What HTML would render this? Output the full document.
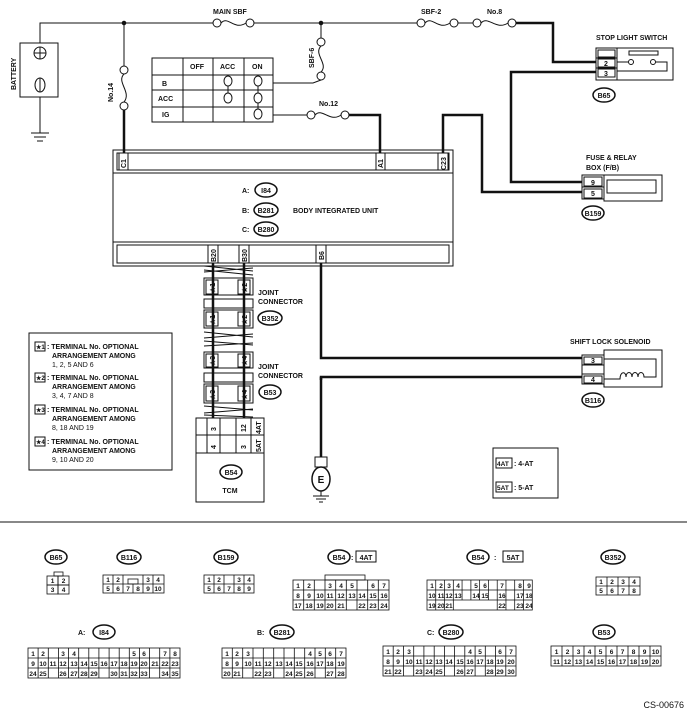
<!DOCTYPE html>
<html><head><meta charset="utf-8"><style>
html,body{margin:0;padding:0;background:#fff}
svg{display:block}
text{font-family:"Liberation Sans",Arial,sans-serif;font-weight:bold;fill:#111}
.t{font-size:7px}
.c{font-size:6.5px;font-weight:normal;text-anchor:middle}
.m{text-anchor:middle}
</style></head><body>
<svg width="687" height="719" viewBox="0 0 687 719" xmlns="http://www.w3.org/2000/svg">
<g fill="none" stroke="#111" stroke-width="1">
<polyline points="40,43 40,23 213,23"/>
<line x1="254" y1="23" x2="417" y2="23"/>
<line x1="458" y1="23" x2="473" y2="23"/>
<circle cx="124" cy="23" r="1.8" fill="#111"/>
<circle cx="321" cy="23" r="1.8" fill="#111"/>
<circle cx="217" cy="23" r="4"/><circle cx="250" cy="23" r="4"/><path d="M221,23 C228,15 234,31 246,23"/>
<circle cx="421" cy="23" r="4"/><circle cx="454" cy="23" r="4"/><path d="M425,23 C432,15 438,31 450,23"/>
<circle cx="477" cy="23" r="4"/><circle cx="512" cy="23" r="4"/><path d="M481,23 C488,15 496,31 508,23"/>
<rect x="20" y="43" width="38" height="54"/>
<circle cx="40" cy="53" r="6"/><line x1="34" y1="53" x2="46" y2="53"/><line x1="40" y1="47" x2="40" y2="59"/>
<ellipse cx="40" cy="85" rx="5" ry="7"/><line x1="40" y1="78" x2="40" y2="92"/>
<line x1="40" y1="97" x2="40" y2="133"/>
<line x1="31" y1="133" x2="49" y2="133"/><line x1="34" y1="137" x2="46" y2="137"/><line x1="37" y1="141" x2="43" y2="141"/>
<line x1="124" y1="23" x2="124" y2="66"/>
<circle cx="124" cy="70" r="4"/><circle cx="124" cy="106" r="4"/><path d="M124,74 C116,82 132,92 124,102"/>
<line x1="321" y1="23" x2="321" y2="38"/>
<circle cx="321" cy="42" r="4"/><circle cx="321" cy="76" r="4"/><path d="M321,46 C313,54 329,64 321,72"/>
<polyline points="273,83 313,83 321,80"/>
<rect x="152" y="58" width="121" height="64"/>
<line x1="183" y1="58" x2="183" y2="122"/><line x1="213" y1="58" x2="213" y2="122"/><line x1="244" y1="58" x2="244" y2="122"/>
<line x1="152" y1="75" x2="273" y2="75"/><line x1="152" y1="90" x2="273" y2="90"/><line x1="152" y1="107" x2="273" y2="107"/>
<ellipse cx="228" cy="81" rx="4" ry="5"/><ellipse cx="228" cy="98" rx="4" ry="5"/><line x1="228" y1="86" x2="228" y2="93"/>
<ellipse cx="258" cy="81" rx="4" ry="5"/><ellipse cx="258" cy="98" rx="4" ry="5"/><ellipse cx="258" cy="114" rx="4" ry="5"/>
<line x1="258" y1="86" x2="258" y2="93"/><line x1="258" y1="103" x2="258" y2="109"/>
<line x1="273" y1="115" x2="307" y2="115"/>
<circle cx="311" cy="115" r="4"/><circle cx="345" cy="115" r="4"/><path d="M315,115 C322,107 330,123 341,115"/>
<rect x="113" y="150" width="340" height="116"/>
<rect x="117" y="153" width="332" height="17"/>
<line x1="113" y1="173" x2="453" y2="173"/>
<line x1="113" y1="242" x2="453" y2="242"/>
<rect x="117" y="245" width="332" height="18"/>
<rect x="119" y="153" width="9" height="17"/><rect x="376" y="153" width="9" height="17"/><rect x="438" y="153" width="10" height="17"/>
<rect x="208" y="245" width="10" height="18"/><rect x="239" y="245" width="10" height="18"/><rect x="316" y="245" width="10" height="18"/>
<ellipse cx="266" cy="190" rx="11" ry="7" stroke-width="1.5"/>
<ellipse cx="266" cy="210" rx="12" ry="7" stroke-width="1.5"/>
<ellipse cx="266" cy="229" rx="12" ry="7" stroke-width="1.5"/>
<rect x="596" y="48" width="21" height="32"/>
<line x1="596" y1="58" x2="617" y2="58"/><line x1="596" y1="68" x2="617" y2="68"/>
<rect x="598" y="50" width="17" height="7"/><rect x="598" y="59" width="17" height="8"/><rect x="598" y="69" width="17" height="8"/>
<rect x="617" y="48" width="56" height="32"/>
<rect x="629" y="51" width="29" height="4"/>
<circle cx="631" cy="62" r="2.5"/><circle cx="653" cy="62" r="2.5"/>
<polyline points="617,62 628,62"/><polyline points="656,62 667,62 667,71 617,71"/>
<ellipse cx="604" cy="95" rx="11" ry="7" stroke-width="1.5"/>
<rect x="582" y="175" width="22" height="24"/>
<line x1="582" y1="187" x2="604" y2="187"/>
<rect x="584" y="177" width="18" height="9"/><rect x="584" y="189" width="18" height="9"/>
<rect x="604" y="175" width="58" height="26"/>
<rect x="607" y="180" width="49" height="13"/>
<ellipse cx="593" cy="213" rx="11" ry="7" stroke-width="1.5"/>
<rect x="204" y="278" width="49" height="17"/><rect x="206" y="280" width="12" height="14"/><rect x="238" y="280" width="12" height="14"/>
<rect x="204" y="299" width="49" height="9"/><line x1="213" y1="299" x2="213" y2="308"/><line x1="244" y1="299" x2="244" y2="308"/>
<rect x="204" y="310" width="49" height="18"/><rect x="206" y="312" width="12" height="14"/><rect x="238" y="312" width="12" height="14"/>
<rect x="204" y="352" width="49" height="16"/><rect x="206" y="354" width="12" height="13"/><rect x="238" y="354" width="12" height="13"/>
<rect x="204" y="373" width="49" height="9"/><line x1="213" y1="373" x2="213" y2="382"/><line x1="244" y1="373" x2="244" y2="382"/>
<rect x="204" y="384" width="49" height="19"/><rect x="206" y="386" width="12" height="15"/><rect x="238" y="386" width="12" height="15"/>
<ellipse cx="270" cy="318" rx="12" ry="7" stroke-width="1.5"/>
<ellipse cx="270" cy="392" rx="11" ry="7" stroke-width="1.5"/>
<path d="M204,266 L253,271 M204,272 L253,268 M204,270 L253,275"/>
<path d="M204,332 L253,337 M204,338 L253,334 M204,341 L253,345 M204,346 L253,343"/>
<path d="M204,406 L253,410 M204,413 L253,409 M204,415 L253,417"/>
<rect x="196" y="418" width="68" height="84"/>
<line x1="196" y1="453" x2="264" y2="453"/>
<line x1="196" y1="435" x2="264" y2="435"/>
<line x1="207" y1="418" x2="207" y2="453"/><line x1="220" y1="418" x2="220" y2="453"/><line x1="236" y1="418" x2="236" y2="453"/><line x1="251" y1="418" x2="251" y2="453"/>
<ellipse cx="231" cy="472" rx="11" ry="7" stroke-width="1.5"/>
<rect x="582" y="355" width="22" height="29"/>
<line x1="582" y1="365" x2="604" y2="365"/><line x1="582" y1="374" x2="604" y2="374"/>
<rect x="584" y="357" width="18" height="7"/><rect x="584" y="376" width="18" height="7"/>
<rect x="604" y="350" width="58" height="37"/>
<polyline points="604,359 656,359 656,377 646,377"/>
<path d="M604,379 L620,379 C620,371 626,371 626,377 C626,371 632,371 632,377 C632,371 638,371 638,377 C638,371 644,371 644,377 L646,377"/>
<ellipse cx="593" cy="400" rx="11" ry="7" stroke-width="1.5"/>
<line x1="321" y1="377" x2="321" y2="457" stroke-width="2.5"/>
<rect x="315" y="457" width="12" height="10"/>
<ellipse cx="321" cy="479" rx="9" ry="12" stroke-width="1.5"/>
<line x1="321" y1="491" x2="321" y2="496"/>
<line x1="313" y1="496" x2="329" y2="496"/><line x1="316" y1="499" x2="326" y2="499"/><line x1="319" y1="502" x2="323" y2="502"/>
<rect x="29" y="333" width="143" height="137"/>
<rect x="35" y="342" width="10" height="9"/><rect x="35" y="373" width="10" height="9"/><rect x="35" y="405" width="10" height="9"/><rect x="35" y="437" width="10" height="9"/>
<rect x="493" y="448" width="65" height="50"/>
<rect x="496" y="458" width="16" height="10"/><rect x="496" y="482" width="16" height="10"/>
<line x1="0" y1="522" x2="687" y2="522"/>
<ellipse cx="56" cy="557" rx="11" ry="7" stroke-width="1.5"/>
<ellipse cx="129" cy="557" rx="12" ry="7" stroke-width="1.5"/>
<ellipse cx="226" cy="557" rx="12" ry="7" stroke-width="1.5"/>
<ellipse cx="339" cy="557" rx="11" ry="7" stroke-width="1.5"/><rect x="356" y="551" width="20" height="11"/>
<ellipse cx="478" cy="557" rx="11" ry="7" stroke-width="1.5"/><rect x="503" y="551" width="20" height="11"/>
<ellipse cx="613" cy="557" rx="12" ry="7" stroke-width="1.5"/>
<ellipse cx="104" cy="632" rx="11" ry="7" stroke-width="1.5"/>
<ellipse cx="282" cy="632" rx="12" ry="7" stroke-width="1.5"/>
<ellipse cx="451" cy="632" rx="12" ry="7" stroke-width="1.5"/>
<ellipse cx="604" cy="632" rx="11" ry="7" stroke-width="1.5"/>
</g>
<g fill="none" stroke="#111" stroke-width="2.5">
<polyline points="516,23 553,23 553,62 596,62"/>
<polyline points="596,72 511,72 511,182 582,182"/>
<polyline points="443,153 443,115 482,115 482,192 582,192"/>
<polyline points="349,115 380,115 380,153"/>
<line x1="124" y1="110" x2="124" y2="153"/>
<line x1="213" y1="263" x2="213" y2="418"/>
<line x1="244" y1="263" x2="244" y2="418"/>
<polyline points="321,263 321,358 582,358"/>
<polyline points="321,380 321,377 582,377"/>
</g>
<text class="t" x="213" y="14">MAIN SBF</text>
<text class="t" x="421" y="14">SBF-2</text>
<text class="t" x="487" y="14">No.8</text>
<text class="t" x="596" y="40">STOP LIGHT SWITCH</text>
<text class="t" transform="translate(16,90) rotate(-90)">BATTERY</text>
<text class="t" transform="translate(113,102) rotate(-90)">No.14</text>
<text class="t" transform="translate(314,68) rotate(-90)">SBF-6</text>
<text class="t" x="319" y="106">No.12</text>
<text class="t" x="190" y="69">OFF</text><text class="t" x="220" y="69">ACC</text><text class="t" x="252" y="69">ON</text>
<text class="t" x="162" y="86">B</text><text class="t" x="158" y="101">ACC</text><text class="t" x="162" y="117">IG</text>
<text class="t m" x="606" y="66">2</text><text class="t m" x="606" y="76">3</text>
<text class="t m" x="604" y="98">B65</text>
<text class="t" x="586" y="160">FUSE &amp; RELAY</text>
<text class="t" x="586" y="170">BOX (F/B)</text>
<text class="t m" x="593" y="185">9</text><text class="t m" x="593" y="196">5</text>
<text class="t m" x="593" y="216">B159</text>
<text class="t" transform="translate(126,168) rotate(-90)">C1</text>
<text class="t" transform="translate(383,168) rotate(-90)">A1</text>
<text class="t" transform="translate(446,170) rotate(-90)">C23</text>
<text class="t" x="242" y="193">A:</text><text class="t m" x="266" y="193">I84</text>
<text class="t" x="242" y="213">B:</text><text class="t m" x="266" y="213">B281</text>
<text class="t" x="242" y="232">C:</text><text class="t m" x="266" y="232">B280</text>
<text class="t" x="293" y="213">BODY INTEGRATED UNIT</text>
<text class="t" transform="translate(216,262) rotate(-90)">B20</text>
<text class="t" transform="translate(247,262) rotate(-90)">B30</text>
<text class="t" transform="translate(324,260) rotate(-90)">B6</text>
<text class="t" transform="translate(215,293) rotate(-90)">★1</text><text class="t" transform="translate(247,293) rotate(-90)">★2</text>
<text class="t" transform="translate(215,325) rotate(-90)">★1</text><text class="t" transform="translate(247,325) rotate(-90)">★2</text>
<text class="t" transform="translate(215,366) rotate(-90)">★3</text><text class="t" transform="translate(247,366) rotate(-90)">★4</text>
<text class="t" transform="translate(215,400) rotate(-90)">★3</text><text class="t" transform="translate(247,400) rotate(-90)">★4</text>
<text class="t" x="258" y="295">JOINT</text><text class="t" x="258" y="304">CONNECTOR</text>
<text class="t m" x="270" y="321">B352</text>
<text class="t" x="258" y="369">JOINT</text><text class="t" x="258" y="378">CONNECTOR</text>
<text class="t m" x="270" y="395">B53</text>
<text class="t" transform="translate(216,431) rotate(-90)">3</text>
<text class="t" transform="translate(216,449) rotate(-90)">4</text>
<text class="t" transform="translate(246,432) rotate(-90)">12</text>
<text class="t" transform="translate(246,449) rotate(-90)">3</text>
<text class="t" transform="translate(261,434) rotate(-90)">4AT</text>
<text class="t" transform="translate(261,452) rotate(-90)">5AT</text>
<text class="t m" x="231" y="475">B54</text>
<text class="t m" x="230" y="493">TCM</text>
<text class="t m" x="321" y="483" style="font-size:10px">E</text>
<text class="t" x="570" y="344">SHIFT LOCK SOLENOID</text>
<text class="t m" x="593" y="363">3</text><text class="t m" x="593" y="382">4</text>
<text class="t m" x="593" y="403">B116</text>
<g class="t">
<text x="36" y="349" style="font-size:6px">★1</text><text x="47" y="349">: TERMINAL No. OPTIONAL</text><text x="52" y="358">ARRANGEMENT AMONG</text><text x="52" y="367" style="font-weight:normal">1, 2, 5 AND 6</text>
<text x="36" y="380" style="font-size:6px">★2</text><text x="47" y="380">: TERMINAL No. OPTIONAL</text><text x="52" y="389">ARRANGEMENT AMONG</text><text x="52" y="398" style="font-weight:normal">3, 4, 7 AND 8</text>
<text x="36" y="412" style="font-size:6px">★3</text><text x="47" y="412">: TERMINAL No. OPTIONAL</text><text x="52" y="421">ARRANGEMENT AMONG</text><text x="52" y="430" style="font-weight:normal">8, 18 AND 19</text>
<text x="36" y="444" style="font-size:6px">★4</text><text x="47" y="444">: TERMINAL No. OPTIONAL</text><text x="52" y="453">ARRANGEMENT AMONG</text><text x="52" y="462" style="font-weight:normal">9, 10 AND 20</text>
<text x="497" y="466" style="font-size:6.5px">4AT</text><text x="514" y="466">: 4-AT</text>
<text x="497" y="490" style="font-size:6.5px">5AT</text><text x="514" y="490">: 5-AT</text>
</g>
<text class="t m" x="56" y="560">B65</text>
<text class="t m" x="129" y="560">B116</text>
<text class="t m" x="226" y="560">B159</text>
<text class="t m" x="339" y="560">B54</text><text class="t" x="351" y="560">:</text><text class="t m" x="366" y="560">4AT</text>
<text class="t m" x="478" y="560">B54</text><text class="t" x="494" y="560">:</text><text class="t m" x="513" y="560">5AT</text>
<text class="t m" x="613" y="560">B352</text>
<text class="t" x="78" y="635">A:</text><text class="t m" x="104" y="635">I84</text>
<text class="t" x="257" y="635">B:</text><text class="t m" x="282" y="635">B281</text>
<text class="t" x="427" y="635">C:</text><text class="t m" x="451" y="635">B280</text>
<text class="t m" x="604" y="635">B53</text>
<text x="684" y="708" style="font-size:9px;font-weight:normal;text-anchor:end">CS-00676</text>
<g fill="none" stroke="#111" stroke-width="0.8">
<rect x="47" y="576" width="11" height="9"/><rect x="58" y="576" width="11" height="9"/><rect x="47" y="585" width="11" height="9"/><rect x="58" y="585" width="11" height="9"/><rect x="54" y="572" width="9" height="4"/>
<rect x="103" y="575" width="61" height="18"/><line x1="103" y1="584" x2="164" y2="584"/>
<path d="M113,575V593M123,584V593M133,584V593M143,575V593M153,575V593M123,575V584"/><rect x="128" y="579" width="10" height="5"/>
<rect x="204" y="575" width="50" height="18"/><line x1="204" y1="584" x2="254" y2="584"/>
<path d="M214,575V593M224,575V593M234,575V593M244,575V593"/>
<g transform="translate(-4,0)">
<rect x="297" y="580" width="96" height="30"/><path d="M297,590H393M297,600H393"/>
<path d="M307.7,580V610M318.3,580V610M329,580V610M339.7,580V610M350.3,580V610M361,580V610M371.7,580V610M382.3,580V610"/>
<rect x="329" y="575" width="40" height="5"/>
</g>
<g transform="translate(-5,0) translate(432,0) scale(0.94,1) translate(-432,0)">
<rect x="432" y="580" width="112" height="30"/><path d="M432,590H544M432,600H544"/>
<path d="M441.3,580V610M450.7,580V610M460,580V610M469.3,580V600M478.7,580V600M488,580V600M497.3,580V600M506.7,580V610M516,580V610M525.3,580V610M534.7,580V610"/>
</g>
<rect x="596" y="577" width="44" height="18"/><line x1="596" y1="586" x2="640" y2="586"/><path d="M607,577V595M618,577V595M629,577V595"/>
<rect x="28" y="648" width="152" height="30"/><path d="M28,658H180M28,668H180"/>
<path d="M38.1,648V678M48.3,648V678M58.4,648V678M68.5,648V678M78.7,648V678M88.8,648V678M98.9,648V678M109.1,648V678M119.2,648V678M129.3,648V678M139.5,648V678M149.6,648V678M159.7,648V678M169.9,648V678"/>
<rect x="222" y="648" width="124" height="30"/><path d="M222,658H346M222,668H346"/>
<path d="M232.3,648V678M242.7,648V678M253,648V678M263.3,648V678M273.7,648V678M284,648V678M294.3,648V678M304.7,648V678M315,648V678M325.3,648V678M335.7,648V678"/>
<rect x="383" y="646" width="133" height="30"/><path d="M383,656H516M383,666H516"/>
<path d="M393.2,646V676M403.5,646V676M413.7,646V676M423.9,646V676M434.2,646V676M444.4,646V676M454.6,646V676M464.8,646V676M475.1,646V676M485.3,646V676M495.5,646V676M505.8,646V676"/>
<rect x="551" y="646" width="110" height="20"/><line x1="551" y1="656" x2="661" y2="656"/>
<path d="M562,646V666M573,646V666M584,646V666M595,646V666M606,646V666M617,646V666M628,646V666M639,646V666M650,646V666"/>
</g>
<g class="c">
<text x="52.5" y="583">1</text><text x="63.5" y="583">2</text><text x="52.5" y="592">3</text><text x="63.5" y="592">4</text>
<text x="108" y="582">1</text><text x="118" y="582">2</text><text x="148" y="582">3</text><text x="158" y="582">4</text>
<text x="108" y="591">5</text><text x="118" y="591">6</text><text x="128" y="591">7</text><text x="138" y="591">8</text><text x="148" y="591">9</text><text x="158" y="591">10</text>
<text x="209" y="582">1</text><text x="219" y="582">2</text><text x="239" y="582">3</text><text x="249" y="582">4</text>
<text x="209" y="591">5</text><text x="219" y="591">6</text><text x="229" y="591">7</text><text x="239" y="591">8</text><text x="249" y="591">9</text>
<g transform="translate(-4,0)">
<text x="302" y="588">1</text><text x="313" y="588">2</text><text x="334" y="588">3</text><text x="345" y="588">4</text><text x="356" y="588">5</text><text x="377" y="588">6</text><text x="388" y="588">7</text>
<text x="302" y="598">8</text><text x="313" y="598">9</text><text x="324" y="598">10</text><text x="334" y="598">11</text><text x="345" y="598">12</text><text x="356" y="598">13</text><text x="366" y="598">14</text><text x="377" y="598">15</text><text x="388" y="598">16</text>
<text x="302" y="608">17</text><text x="313" y="608">18</text><text x="324" y="608">19</text><text x="334" y="608">20</text><text x="345" y="608">21</text><text x="366" y="608">22</text><text x="377" y="608">23</text><text x="388" y="608">24</text>
</g>
<text x="432" y="588">1</text><text x="441" y="588">2</text><text x="449" y="588">3</text><text x="458" y="588">4</text><text x="476" y="588">5</text><text x="485" y="588">6</text><text x="502" y="588">7</text><text x="520" y="588">8</text><text x="529" y="588">9</text>
<text x="432" y="598">10</text><text x="441" y="598">11</text><text x="449" y="598">12</text><text x="458" y="598">13</text><text x="476" y="598">14</text><text x="485" y="598">15</text><text x="502" y="598">16</text><text x="520" y="598">17</text><text x="529" y="598">18</text>
<text x="432" y="608">19</text><text x="441" y="608">20</text><text x="449" y="608">21</text><text x="502" y="608">22</text><text x="520" y="608">23</text><text x="529" y="608">24</text>
<text x="601" y="584">1</text><text x="612" y="584">2</text><text x="623" y="584">3</text><text x="634" y="584">4</text>
<text x="601" y="593">5</text><text x="612" y="593">6</text><text x="623" y="593">7</text><text x="634" y="593">8</text>
<text x="33" y="656">1</text><text x="43" y="656">2</text><text x="63" y="656">3</text><text x="74" y="656">4</text><text x="134" y="656">5</text><text x="144" y="656">6</text><text x="165" y="656">7</text><text x="175" y="656">8</text>
<text x="33" y="666">9</text><text x="43" y="666">10</text><text x="53" y="666">11</text><text x="63" y="666">12</text><text x="74" y="666">13</text><text x="84" y="666">14</text><text x="94" y="666">15</text><text x="104" y="666">16</text><text x="114" y="666">17</text><text x="124" y="666">18</text><text x="134" y="666">19</text><text x="144" y="666">20</text><text x="155" y="666">21</text><text x="165" y="666">22</text><text x="175" y="666">23</text>
<text x="33" y="676">24</text><text x="43" y="676">25</text><text x="63" y="676">26</text><text x="74" y="676">27</text><text x="84" y="676">28</text><text x="94" y="676">29</text><text x="114" y="676">30</text><text x="124" y="676">31</text><text x="134" y="676">32</text><text x="144" y="676">33</text><text x="165" y="676">34</text><text x="175" y="676">35</text>
<text x="227" y="656">1</text><text x="237" y="656">2</text><text x="248" y="656">3</text><text x="310" y="656">4</text><text x="320" y="656">5</text><text x="330" y="656">6</text><text x="341" y="656">7</text>
<text x="227" y="666">8</text><text x="237" y="666">9</text><text x="248" y="666">10</text><text x="258" y="666">11</text><text x="268" y="666">12</text><text x="279" y="666">13</text><text x="289" y="666">14</text><text x="299" y="666">15</text><text x="310" y="666">16</text><text x="320" y="666">17</text><text x="330" y="666">18</text><text x="341" y="666">19</text>
<text x="227" y="676">20</text><text x="237" y="676">21</text><text x="258" y="676">22</text><text x="268" y="676">23</text><text x="289" y="676">24</text><text x="299" y="676">25</text><text x="310" y="676">26</text><text x="330" y="676">27</text><text x="341" y="676">28</text>
<text x="388" y="654">1</text><text x="398" y="654">2</text><text x="409" y="654">3</text><text x="470" y="654">4</text><text x="480" y="654">5</text><text x="500" y="654">6</text><text x="511" y="654">7</text>
<text x="388" y="664">8</text><text x="398" y="664">9</text><text x="409" y="664">10</text><text x="419" y="664">11</text><text x="429" y="664">12</text><text x="439" y="664">13</text><text x="449" y="664">14</text><text x="460" y="664">15</text><text x="470" y="664">16</text><text x="480" y="664">17</text><text x="490" y="664">18</text><text x="500" y="664">19</text><text x="511" y="664">20</text>
<text x="388" y="674">21</text><text x="398" y="674">22</text><text x="419" y="674">23</text><text x="429" y="674">24</text><text x="439" y="674">25</text><text x="460" y="674">26</text><text x="470" y="674">27</text><text x="490" y="674">28</text><text x="500" y="674">29</text><text x="511" y="674">30</text>
<text x="556.5" y="654">1</text><text x="567.5" y="654">2</text><text x="578.5" y="654">3</text><text x="589.5" y="654">4</text><text x="600.5" y="654">5</text><text x="611.5" y="654">6</text><text x="622.5" y="654">7</text><text x="633.5" y="654">8</text><text x="644.5" y="654">9</text><text x="655.5" y="654">10</text>
<text x="556.5" y="664">11</text><text x="567.5" y="664">12</text><text x="578.5" y="664">13</text><text x="589.5" y="664">14</text><text x="600.5" y="664">15</text><text x="611.5" y="664">16</text><text x="622.5" y="664">17</text><text x="633.5" y="664">18</text><text x="644.5" y="664">19</text><text x="655.5" y="664">20</text>
</g>
</svg>
</body></html>
